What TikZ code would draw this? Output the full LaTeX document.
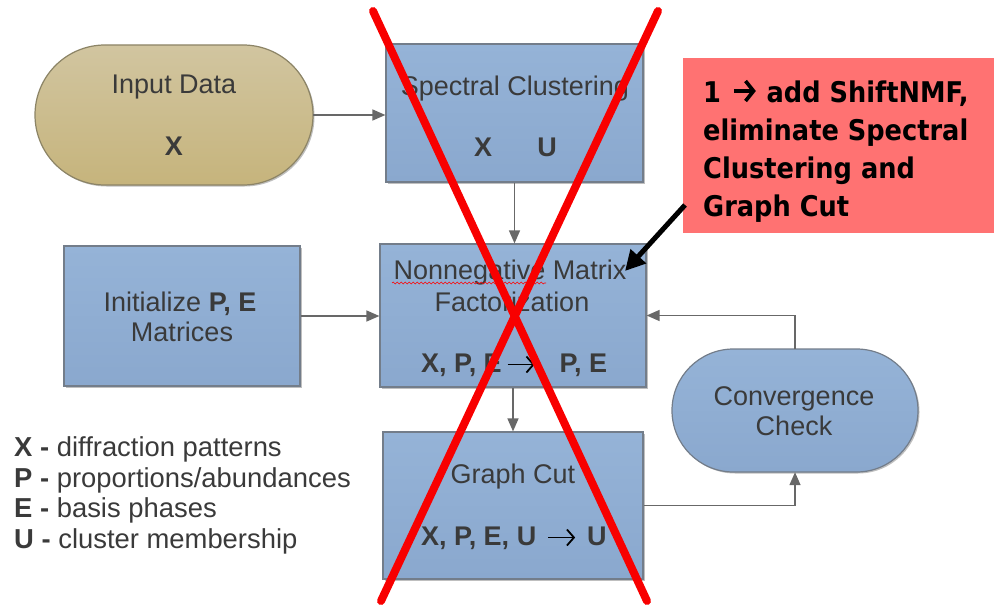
\documentclass[tikz,border=0pt]{standalone}
\usepackage{fontspec}
\setmainfont{Liberation Sans}
\newfontfamily\calloutfont[FakeStretch=0.9]{DejaVu Sans}
\usetikzlibrary{arrows.meta,shadows,decorations.pathmorphing}

\definecolor{boxtop}{HTML}{95B3D7}
\definecolor{boxbot}{HTML}{8AA8CE}
\definecolor{boxline}{HTML}{737D8A}
\definecolor{sandtop}{HTML}{D1C5A0}
\definecolor{sandbot}{HTML}{C6B47C}
\definecolor{sandline}{HTML}{8C8466}
\definecolor{labeltext}{HTML}{3A3A3A}
\definecolor{connector}{HTML}{686868}
\definecolor{notefill}{HTML}{FF7272}
\definecolor{crossred}{HTML}{F80000}

% thin black arrow used inside the mapping labels
\newcommand{\rarr}{\tikz[baseline=0pt,x=1pt,y=1pt]\draw[black,line width=1.8pt,
  -{Straight Barb[length=7pt,width=16pt,line width=1.8pt]}] (0,7.5) -- (27,7.5);}
% heavy arrow used in the note text
\newcommand{\notearrow}{\tikz[baseline=0pt,x=1pt,y=1pt]\draw[black,line width=3.6pt,
  -{Straight Barb[length=8pt,width=20pt,line width=3.6pt]}] (0,11) -- (22,11);}

\tikzset{
  shade/.style={drop shadow={shadow xshift=1.5pt,shadow yshift=-1.5pt,opacity=0.25,fill=black}},
  flowbox/.style={draw=boxline,line width=1.2pt,top color=boxtop,bottom color=boxbot,shade},
  sandbox/.style={draw=sandline,line width=1.2pt,top color=sandtop,bottom color=sandbot,shade},
  boxtext/.style={text=labeltext,font=\fontsize{27}{32}\selectfont,inner sep=0pt},
  boldtext/.style={boxtext,font=\fontsize{27}{32}\selectfont\bfseries},
  legendtext/.style={text=labeltext,font=\fontsize{27.4}{30}\selectfont,inner sep=0pt,anchor=base west},
  conn/.style={draw=connector,line width=1.5pt,-{Triangle[length=13pt,width=11pt]}},
  cross/.style={draw=crossred,line width=8pt,line cap=round},
}

\begin{document}
\begin{tikzpicture}[x=1pt,y=-1pt]
\useasboundingbox (0,0) rectangle (995,607);

% ---- process shapes ----
\path[sandbox,rounded corners=70pt] (35,45) rectangle (313,185);
\node[minimum width=278pt,minimum height=140pt,inner sep=0pt] (in) at (174,115) {};

\node[flowbox,minimum width=257pt,minimum height=138pt,inner sep=0pt] (sc) at (514.5,113) {};
\node[flowbox,minimum width=266pt,minimum height=143pt,inner sep=0pt] (nmf) at (513,315.5) {};
\node[flowbox,minimum width=236pt,minimum height=140pt,inner sep=0pt] (init) at (182,316) {};
\node[flowbox,minimum width=260pt,minimum height=147pt,inner sep=0pt] (gc) at (513,505.5) {};

\path[flowbox,rounded corners=61.5pt] (672,349) rectangle (918,472);
\node[minimum width=246pt,minimum height=123pt,inner sep=0pt] (cc) at (795,410.5) {};

% ---- texts inside shapes ----
\node[boxtext,anchor=base] (in-t) at (174,94) {Input Data};
\node[boldtext,anchor=base] (in-x) at (174,155) {X};

\node[boxtext,anchor=base] (sc-t) at (515,96) {Spectral Clustering};
\node[boldtext,anchor=base] (sc-x) at (483,156) {X};
\node[boldtext,anchor=base] (sc-u) at (547,156) {U};

\node[boxtext,anchor=base] (nmf-t1) at (510,279) {Nonnegative Matrix};
\node[boxtext,anchor=base] (nmf-t2) at (512,311) {Factorization};
\node[boldtext,anchor=base west] (nmf-io) at (421,372) {X, P, E\hspace{5pt}\rarr\hspace{24pt}P, E};
\draw[red,line width=0.6pt,decorate,decoration={snake,amplitude=0.9pt,segment length=4pt}]
  (392,283) -- (546,283);

\node[boxtext,anchor=base,align=center] (init-t1) at (180,311) {Initialize \textbf{P, E}};
\node[boxtext,anchor=base] (init-t2) at (182,341) {Matrices};

\node[boxtext,anchor=base] (gc-t) at (513,483) {Graph Cut};
\node[boldtext,anchor=base west] (gc-io) at (421,545) {X, P, E, U\hspace{11pt}\rarr\hspace{11pt}U};

\node[boxtext,anchor=base] (cc-t1) at (794,405) {Convergence};
\node[boxtext,anchor=base] (cc-t2) at (794,435) {Check};

% ---- connectors ----
\draw[conn] (in.east) -- (in.east -| sc.west);
\draw[conn] (sc.south) -- (sc.south |- nmf.north);
\draw[conn] (init.east) -- (init.east -| nmf.west);
\draw[conn] (nmf.south) -- (nmf.south |- gc.north);
\draw[conn] (cc.north) |- (nmf.east);
\draw[conn] (gc.east) -| (cc.south);

% ---- legend ----
\node[legendtext] (lg-x) at (14,456) {\textbf{X -} diffraction patterns};
\node[legendtext] (lg-p) at (14,487) {\textbf{P -} proportions/abundances};
\node[legendtext] (lg-e) at (14,517) {\textbf{E -} basis phases};
\node[legendtext] (lg-u) at (14,548) {\textbf{U -} cluster membership};

% ---- revision note ----
\node[fill=notefill,minimum width=311pt,minimum height=175pt,inner sep=0pt] (note) at (838.5,145.5) {};
\node[anchor=north west,inner sep=0pt,align=left,text=black,
      font=\calloutfont\bfseries\fontsize{28.5}{38.3}\selectfont] (note-t) at (703,79)
  {1\hspace{11pt}\notearrow\hspace{9pt}add ShiftNMF,\\eliminate Spectral\\Clustering and\\Graph Cut};
\coordinate (note-tail) at (685,205);
\coordinate (note-tip) at (625,271);
\draw[line width=5pt,-{Triangle[length=20pt,width=20pt]}] (note-tail) -- (note-tip);

% ---- red cross ----
\coordinate (x-tl) at (373,11);
\coordinate (x-br) at (647,601);
\coordinate (x-tr) at (658,11);
\coordinate (x-bl) at (381,601);
\draw[cross] (x-tl) -- (x-br);
\draw[cross] (x-tr) -- (x-bl);
\end{tikzpicture}
\end{document}
